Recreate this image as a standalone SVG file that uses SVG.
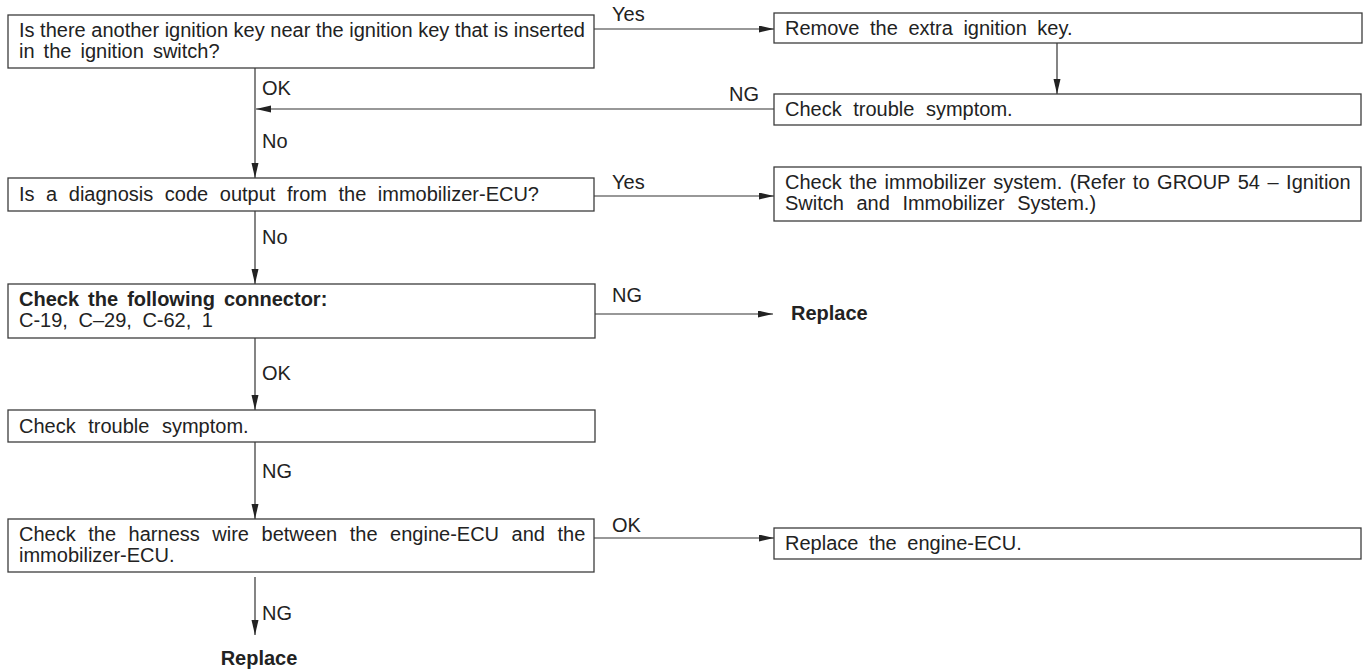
<svg xmlns="http://www.w3.org/2000/svg" width="1367" height="672" viewBox="0 0 1367 672">
  <style>
    .box { fill: #ffffff; stroke: #3c3c3c; stroke-width: 1.3; }
    .t { font-family: "Liberation Sans", Arial, sans-serif; font-size: 20px; fill: #222222; }
    .b { font-weight: bold; }
    .w2 { word-spacing: 2px; }
    .w3 { word-spacing: 3.5px; }
    .w5 { word-spacing: 5px; }
    .w6 { word-spacing: 6px; }
    .w7 { word-spacing: 7px; }
    .line { fill: none; stroke: #333333; stroke-width: 1.2; }
    .arr { marker-end: url(#head); }
  </style>
  <defs>
    <marker id="head" markerUnits="userSpaceOnUse" markerWidth="16" markerHeight="8" refX="15" refY="3.5" orient="auto">
      <path d="M0,0 L15,3.5 L0,7 z" fill="#222222"/>
    </marker>
  </defs>

  <rect width="1367" height="672" fill="#ffffff"/>

  <!-- connectors -->
  <g id="connectors">
    <line class="line arr" x1="594" y1="29" x2="774" y2="29"/>
    <text class="t" x="612" y="21">Yes</text>

    <line class="line arr" x1="1057" y1="43" x2="1057" y2="94"/>

    <line class="line arr" x1="774" y1="109" x2="256" y2="109"/>
    <text class="t" x="729" y="101">NG</text>

    <line class="line arr" x1="255" y1="68" x2="255" y2="178"/>
    <text class="t" x="262" y="95">OK</text>
    <text class="t" x="262" y="148">No</text>

    <line class="line arr" x1="594" y1="196" x2="774" y2="196"/>
    <text class="t" x="612" y="189">Yes</text>

    <line class="line arr" x1="255" y1="211" x2="255" y2="284"/>
    <text class="t" x="262" y="244">No</text>

    <line class="line arr" x1="595" y1="314" x2="773" y2="314"/>
    <text class="t" x="612" y="302">NG</text>

    <line class="line arr" x1="255" y1="338" x2="255" y2="410"/>
    <text class="t" x="262" y="380">OK</text>

    <line class="line arr" x1="255" y1="442" x2="255" y2="519"/>
    <text class="t" x="262" y="478">NG</text>

    <line class="line arr" x1="594" y1="538" x2="774" y2="538"/>
    <text class="t" x="612" y="532">OK</text>

    <line class="line arr" x1="255" y1="577" x2="255" y2="635"/>
    <text class="t" x="262" y="620">NG</text>
  </g>

  <!-- decision: spare key nearby -->
  <g id="n-key-near">
    <rect class="box" x="8" y="15" width="586" height="53"/>
    <text class="t" x="19" y="37">Is there another ignition key near the ignition key that is inserted</text>
    <text class="t w3" x="19" y="58">in the ignition switch?</text>
  </g>

  <g id="n-remove-key">
    <rect class="box" x="774" y="13" width="588" height="30"/>
    <text class="t w5" x="785" y="35">Remove the extra ignition key.</text>
  </g>

  <g id="n-check-symptom-1">
    <rect class="box" x="774" y="94" width="587" height="31"/>
    <text class="t w6" x="785" y="116">Check trouble symptom.</text>
  </g>

  <g id="n-diag-code">
    <rect class="box" x="8" y="178" width="586" height="33"/>
    <text class="t w6" x="19" y="201">Is a diagnosis code output from the immobilizer-ECU?</text>
  </g>

  <g id="n-immobilizer">
    <rect class="box" x="774" y="167" width="587" height="54"/>
    <text class="t w2" x="785" y="189">Check the immobilizer system. (Refer to GROUP 54 – Ignition</text>
    <text class="t w7" x="785" y="210">Switch and Immobilizer System.)</text>
  </g>

  <g id="n-connector">
    <rect class="box" x="8" y="284" width="587" height="54"/>
    <text class="t b w3" x="19" y="306">Check the following connector:</text>
    <text class="t w5" x="19" y="327">C-19, C–29, C-62, 1</text>
  </g>

  <g id="n-replace-1">
    <text class="t b" x="791" y="320">Replace</text>
  </g>

  <g id="n-check-symptom-2">
    <rect class="box" x="8" y="410" width="587" height="32"/>
    <text class="t w7" x="19" y="433">Check trouble symptom.</text>
  </g>

  <g id="n-harness">
    <rect class="box" x="8" y="519" width="586" height="53"/>
    <text class="t w7" x="19" y="541">Check the harness wire between the engine-ECU and the</text>
    <text class="t" x="19" y="562">immobilizer-ECU.</text>
  </g>

  <g id="n-replace-ecu">
    <rect class="box" x="774" y="528" width="587" height="31"/>
    <text class="t w5" x="785" y="550">Replace the engine-ECU.</text>
  </g>

  <g id="n-replace-2">
    <text class="t b" x="259" y="665" text-anchor="middle">Replace</text>
  </g>
</svg>
